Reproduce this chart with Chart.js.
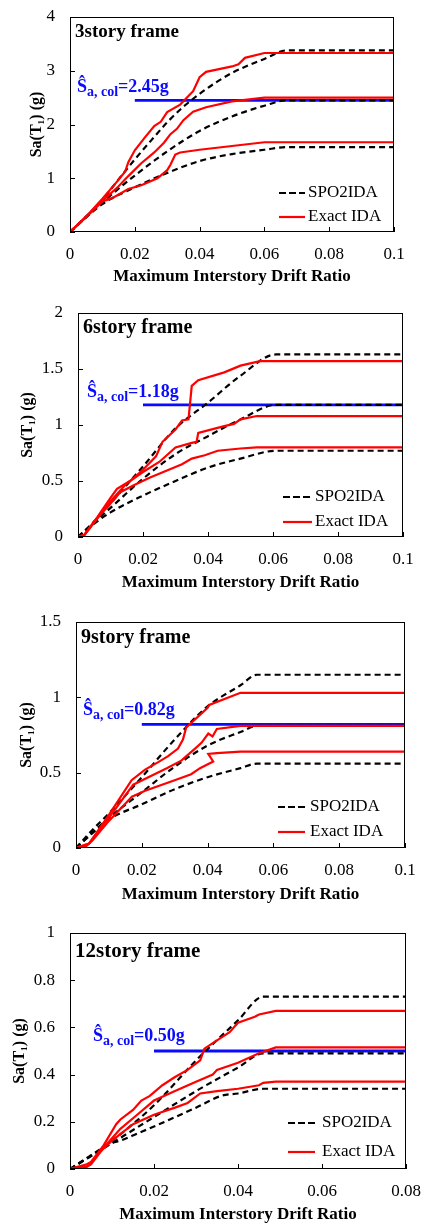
<!DOCTYPE html>
<html>
<head>
<meta charset="utf-8">
<script src="https://cdn.jsdelivr.net/npm/chart.js@4.4.1/dist/chart.umd.min.js"></script>
<style>
  body { margin: 0; background: #fff; width: 422px; height: 1225px; overflow: hidden; position: relative; }
  canvas { position: absolute; left: 0; }
</style>
</head>
<body>
<canvas id="c3" width="422" height="300" style="top:0px"></canvas>
<canvas id="c6" width="422" height="300" style="top:300px"></canvas>
<canvas id="c9" width="422" height="310" style="top:600px"></canvas>
<canvas id="c12" width="422" height="325" style="top:900px"></canvas>
<script>
// ---- data: [drift, Sa] pairs ----
const frameTitles = ['3story frame', '6story frame', '9story frame', '12story frame'];
const saCol = [2.45, 1.18, 0.82, 0.50];
const legendLabels = ['SPO2IDA', 'Exact IDA'];
const xTitle = 'Maximum Interstory Drift Ratio';
const yTitle = 'Sa(T\u2081) (g)';

const xTicks10 = [0, 0.02, 0.04, 0.06, 0.08, 0.1];
const xLabels10 = ['0', '0.02', '0.04', '0.06', '0.08', '0.1'];
const xTicks8 = [0, 0.02, 0.04, 0.06, 0.08];
const xLabels8 = ['0', '0.02', '0.04', '0.06', '0.08'];

const yTicks3 = [0, 1, 2, 3, 4];
const yLabels3 = ['0', '1', '2', '3', '4'];
const yTicks6 = [0, 0.5, 1, 1.5, 2];
const yLabels6 = ['0', '0.5', '1', '1.5', '2'];
const yTicks9 = [0, 0.5, 1, 1.5];
const yLabels9 = ['0', '0.5', '1', '1.5'];
const yTicks12 = [0, 0.2, 0.4, 0.6, 0.8, 1];
const yLabels12 = ['0', '0.2', '0.4', '0.6', '0.8', '1'];

// 3 story
const spo3_16 = [[0,0],[0.01,0.52],[0.02,0.83],[0.03,1.1],[0.04,1.32],[0.05,1.45],[0.06,1.53],[0.067,1.58],[0.1,1.58]];
const spo3_50 = [[0,0],[0.01,0.55],[0.02,1.05],[0.03,1.5],[0.04,1.88],[0.05,2.15],[0.06,2.35],[0.067,2.45],[0.1,2.45]];
const spo3_84 = [[0,0],[0.01,0.6],[0.015,0.98],[0.02,1.35],[0.025,1.7],[0.03,2.04],[0.035,2.33],[0.04,2.57],[0.045,2.78],[0.05,2.96],[0.055,3.1],[0.06,3.22],[0.067,3.38],[0.1,3.38]];
const ida3_16 = [[0,0],[0.005,0.28],[0.01,0.57],[0.013,0.63],[0.018,0.8],[0.022,0.87],[0.027,1.0],[0.03,1.15],[0.031,1.25],[0.0325,1.44],[0.034,1.48],[0.04,1.53],[0.05,1.6],[0.06,1.67],[0.1,1.67]];
const ida3_50 = [[0,0],[0.005,0.28],[0.01,0.58],[0.015,0.85],[0.018,1.04],[0.022,1.28],[0.026,1.48],[0.029,1.66],[0.031,1.82],[0.033,1.92],[0.035,2.08],[0.038,2.24],[0.042,2.32],[0.05,2.43],[0.06,2.5],[0.1,2.5]];
const ida3_84 = [[0,0],[0.005,0.29],[0.01,0.62],[0.014,0.9],[0.017,1.12],[0.018,1.3],[0.02,1.52],[0.023,1.75],[0.026,1.97],[0.028,2.05],[0.03,2.23],[0.034,2.37],[0.038,2.62],[0.04,2.88],[0.042,2.98],[0.05,3.08],[0.052,3.12],[0.054,3.24],[0.06,3.33],[0.1,3.33]];

// 6 story
const spo6_16 = [[0,0],[0.005,0.12],[0.01,0.22],[0.02,0.37],[0.03,0.5],[0.04,0.62],[0.05,0.7],[0.061,0.77],[0.1,0.77]];
const spo6_50 = [[0,0],[0.005,0.13],[0.01,0.26],[0.02,0.52],[0.03,0.74],[0.04,0.9],[0.05,1.05],[0.061,1.18],[0.1,1.18]];
const spo6_84 = [[0,0],[0.005,0.14],[0.01,0.3],[0.02,0.63],[0.03,0.97],[0.04,1.2],[0.05,1.44],[0.061,1.63],[0.1,1.63]];
const ida6_16 = [[0,0],[0.002,0.02],[0.006,0.17],[0.01,0.3],[0.013,0.4],[0.017,0.46],[0.022,0.53],[0.027,0.59],[0.032,0.65],[0.035,0.7],[0.039,0.73],[0.043,0.77],[0.05,0.79],[0.055,0.8],[0.1,0.8]];
const ida6_50 = [[0,0],[0.002,0.02],[0.006,0.17],[0.01,0.32],[0.015,0.48],[0.02,0.58],[0.025,0.67],[0.03,0.8],[0.035,0.84],[0.0365,0.85],[0.037,0.93],[0.045,0.99],[0.048,1.01],[0.05,1.05],[0.055,1.08],[0.1,1.08]];
const ida6_84 = [[0,0],[0.002,0.02],[0.006,0.18],[0.01,0.35],[0.012,0.43],[0.016,0.5],[0.02,0.6],[0.024,0.72],[0.026,0.85],[0.03,0.96],[0.032,1.04],[0.034,1.05],[0.0345,1.2],[0.035,1.35],[0.037,1.4],[0.045,1.47],[0.05,1.53],[0.056,1.57],[0.1,1.57]];

// 9 story
const spo9_16 = [[0,0],[0.005,0.1],[0.01,0.19],[0.02,0.29],[0.03,0.39],[0.04,0.47],[0.05,0.53],[0.055,0.56],[0.1,0.56]];
const spo9_50 = [[0,0],[0.005,0.1],[0.01,0.2],[0.02,0.37],[0.03,0.54],[0.04,0.68],[0.05,0.77],[0.055,0.81],[0.1,0.81]];
const spo9_84 = [[0,0],[0.005,0.12],[0.01,0.23],[0.02,0.47],[0.03,0.72],[0.04,0.94],[0.05,1.08],[0.055,1.15],[0.1,1.15]];
const ida9_16 = [[0,0],[0.003,0.01],[0.005,0.05],[0.01,0.18],[0.017,0.34],[0.021,0.38],[0.03,0.45],[0.035,0.49],[0.0377,0.53],[0.0417,0.574],[0.0402,0.625],[0.0428,0.63],[0.05,0.64],[0.1,0.64]];
const ida9_50 = [[0,0],[0.004,0.03],[0.01,0.2],[0.0174,0.42],[0.022,0.47],[0.0276,0.53],[0.032,0.58],[0.0367,0.67],[0.0382,0.7],[0.0402,0.76],[0.0415,0.74],[0.0428,0.79],[0.05,0.81],[0.1,0.81]];
const ida9_84 = [[0,0],[0.004,0.03],[0.01,0.22],[0.0169,0.45],[0.021,0.52],[0.025,0.57],[0.028,0.61],[0.031,0.66],[0.0325,0.72],[0.0335,0.8],[0.035,0.83],[0.038,0.89],[0.04,0.93],[0.0405,0.95],[0.05,1.03],[0.1,1.03]];

// 12 story
const spo12_16 = [[0,0],[0.005,0.055],[0.01,0.11],[0.012,0.12],[0.016,0.15],[0.02,0.18],[0.03,0.26],[0.036,0.31],[0.04,0.32],[0.046,0.34],[0.08,0.34]];
const spo12_50 = [[0,0],[0.01,0.11],[0.02,0.22],[0.03,0.33],[0.04,0.43],[0.046,0.49],[0.08,0.49]];
const spo12_84 = [[0,0],[0.01,0.12],[0.02,0.27],[0.03,0.46],[0.04,0.63],[0.046,0.73],[0.08,0.73]];
const ida12_16 = [[0,0],[0.004,0.01],[0.005,0.025],[0.007,0.07],[0.01,0.12],[0.015,0.19],[0.02,0.23],[0.025,0.26],[0.028,0.28],[0.031,0.32],[0.035,0.33],[0.04,0.34],[0.045,0.355],[0.046,0.365],[0.049,0.37],[0.08,0.37]];
const ida12_50 = [[0,0],[0.004,0.01],[0.005,0.02],[0.008,0.09],[0.012,0.17],[0.016,0.23],[0.02,0.29],[0.025,0.33],[0.03,0.37],[0.034,0.4],[0.035,0.42],[0.04,0.45],[0.045,0.49],[0.049,0.515],[0.08,0.515]];
const ida12_84 = [[0,0],[0.004,0.02],[0.005,0.03],[0.008,0.1],[0.011,0.19],[0.012,0.21],[0.015,0.25],[0.017,0.29],[0.019,0.31],[0.022,0.355],[0.025,0.39],[0.028,0.42],[0.031,0.46],[0.032,0.51],[0.035,0.545],[0.038,0.58],[0.04,0.62],[0.044,0.645],[0.045,0.655],[0.049,0.67],[0.08,0.67]];

const FONT = '"Liberation Serif", "Times New Roman", serif';
const RED = '#ff0000';
const BLUE = '#0a0aff';

function toXY(pts) {
  return pts.map(p => ({ x: p[0], y: p[1] }));
}

// draws the frame box, inward ticks, panel title, Sa,col note and legend
const framePlugin = {
  id: 'frameDecor',
  afterDatasetsDraw(chart, args, o) {
    const ctx = chart.ctx;
    const a = chart.chartArea;
    const xs = chart.scales.x;
    const ys = chart.scales.y;
    ctx.save();

    ctx.strokeStyle = '#000';
    ctx.lineWidth = 1;
    ctx.setLineDash([]);
    ctx.strokeRect(a.left + 0.5, a.top + 0.5, a.right - a.left - 1, a.bottom - a.top - 1);

    ctx.beginPath();
    xs.ticks.forEach(t => {
      const px = Math.round(xs.getPixelForValue(t.value)) + 0.5;
      ctx.moveTo(px, a.bottom);
      ctx.lineTo(px, a.bottom - 5);
    });
    ys.ticks.forEach(t => {
      const py = Math.round(ys.getPixelForValue(t.value)) + 0.5;
      ctx.moveTo(a.left, py);
      ctx.lineTo(a.left + 5, py);
    });
    ctx.stroke();

    // panel title
    ctx.fillStyle = '#000';
    ctx.textBaseline = 'alphabetic';
    ctx.textAlign = 'left';
    ctx.font = 'bold ' + o.titleSize + 'px ' + FONT;
    ctx.fillText(o.title, a.left + 5, a.top + o.titleDy);

    // Sa,col note above the blue line
    const by = ys.getPixelForValue(o.sa) - o.noteDy;
    let nx = a.left + o.noteDx;
    ctx.fillStyle = BLUE;
    ctx.font = 'bold 18px ' + FONT;
    ctx.fillText('\u015C', nx, by);
    nx += ctx.measureText('\u015C').width;
    ctx.font = 'bold 14px ' + FONT;
    ctx.fillText('a, col', nx, by + 4);
    nx += ctx.measureText('a, col').width;
    ctx.font = 'bold 18px ' + FONT;
    ctx.fillText('=' + o.sa.toFixed(2) + 'g', nx, by);

    // legend in the lower right corner
    const lg = o.legend;
    const lx = a.right - lg.dx;
    const rows = [a.bottom - lg.dy1, a.bottom - lg.dy2];
    ctx.lineWidth = 2.2;
    ctx.strokeStyle = '#000';
    ctx.setLineDash([7, 3]);
    ctx.beginPath();
    ctx.moveTo(lx, rows[0]);
    ctx.lineTo(lx + lg.len, rows[0]);
    ctx.stroke();
    ctx.setLineDash([]);
    ctx.strokeStyle = RED;
    ctx.beginPath();
    ctx.moveTo(lx, rows[1]);
    ctx.lineTo(lx + lg.len, rows[1]);
    ctx.stroke();
    ctx.fillStyle = '#000';
    ctx.font = '17px ' + FONT;
    ctx.textBaseline = 'middle';
    ctx.fillText(legendLabels[0], lx + lg.len + lg.gap, rows[0]);
    ctx.fillText(legendLabels[1], lx + lg.len + lg.gap, rows[1]);

    ctx.restore();
  }
};

function frameChart(id, c) {
  const canvas = document.getElementById(id);
  const H = canvas.height;
  const datasets = [];
  c.ida.forEach(pts => datasets.push({
    data: toXY(pts), borderColor: RED, borderWidth: 2.2, showLine: true,
    pointRadius: 0, tension: 0, fill: false
  }));
  c.spo.forEach(pts => datasets.push({
    data: toXY(pts), borderColor: '#000', borderWidth: 2.2, borderDash: [6, 4], showLine: true,
    pointRadius: 0, cubicInterpolationMode: 'monotone', fill: false
  }));
  datasets.push({
    data: [{ x: 0.02, y: c.sa }, { x: c.xMax, y: c.sa }],
    borderColor: BLUE, borderWidth: 2.8, showLine: true, pointRadius: 0, fill: false
  });

  return new Chart(canvas, {
    type: 'scatter',
    data: { datasets: datasets },
    options: {
      responsive: false,
      animation: false,
      devicePixelRatio: 1,
      layout: { padding: { left: 0, right: canvas.width - c.box.r, top: c.box.t, bottom: 0 } },
      plugins: {
        legend: { display: false },
        tooltip: { enabled: false },
        frameDecor: {
          title: c.title, titleSize: c.titleSize, titleDy: c.titleDy,
          sa: c.sa, noteDx: c.noteDx, noteDy: c.noteDy, legend: c.legend
        }
      },
      scales: {
        x: {
          type: 'linear', min: 0, max: c.xMax,
          afterBuildTicks: s => { s.ticks = c.xTicks.map(v => ({ value: v })); },
          afterFit: s => { s.height = H - c.box.b; s.paddingLeft = 0; s.paddingRight = 0; },
          grid: { display: false, drawTicks: false },
          border: { display: false },
          ticks: {
            callback: (v, i) => c.xLabels[i], color: '#000', padding: 12,
            maxRotation: 0, autoSkip: false, font: { family: FONT, size: 17 }
          },
          title: {
            display: true, text: xTitle, color: '#000',
            font: { family: FONT, size: 17, weight: 'bold' },
            padding: { top: 0, bottom: c.xTitlePad }
          }
        },
        y: {
          type: 'linear', min: 0, max: c.yMax,
          afterBuildTicks: s => { s.ticks = c.yTicks.map(v => ({ value: v })); },
          afterFit: s => { s.width = c.box.l; s.paddingTop = 0; s.paddingBottom = 0; },
          grid: { display: false, drawTicks: false },
          border: { display: false },
          ticks: {
            callback: (v, i) => c.yLabels[i], color: '#000', padding: 15,
            autoSkip: false, font: { family: FONT, size: 17 }
          },
          title: {
            display: true, text: yTitle, color: '#000',
            font: { family: FONT, size: 16, weight: 'bold' },
            padding: { top: c.yTitlePad, bottom: 0 }
          }
        }
      }
    },
    plugins: [framePlugin]
  });
}

frameChart('c3', {
  spo: [spo3_16, spo3_50, spo3_84], ida: [ida3_16, ida3_50, ida3_84],
  sa: saCol[0], title: frameTitles[0], titleSize: 19, titleDy: 20,
  xMax: 0.1, yMax: 4, xTicks: xTicks10, xLabels: xLabels10, yTicks: yTicks3, yLabels: yLabels3,
  box: { l: 70, r: 394, t: 17, b: 232 }, xTitlePad: 12.8, yTitlePad: 27.4,
  noteDx: 7, noteDy: 8.5, legend: { dx: 115, dy1: 39, dy2: 15, len: 26, gap: 3 }
});
frameChart('c6', {
  spo: [spo6_16, spo6_50, spo6_84], ida: [ida6_16, ida6_50, ida6_84],
  sa: saCol[1], title: frameTitles[1], titleSize: 20, titleDy: 20,
  xMax: 0.1, yMax: 2, xTicks: xTicks10, xLabels: xLabels10, yTicks: yTicks6, yLabels: yLabels6,
  box: { l: 78, r: 403, t: 13, b: 237 }, xTitlePad: 6.8, yTitlePad: 18.4,
  noteDx: 9, noteDy: 8, legend: { dx: 120, dy1: 40, dy2: 15, len: 29, gap: 3 }
});
frameChart('c9', {
  spo: [spo9_16, spo9_50, spo9_84], ida: [ida9_16, ida9_50, ida9_84],
  sa: saCol[2], title: frameTitles[2], titleSize: 20, titleDy: 21,
  xMax: 0.1, yMax: 1.5, xTicks: xTicks10, xLabels: xLabels10, yTicks: yTicks9, yLabels: yLabels9,
  box: { l: 76, r: 405, t: 22, b: 248 }, xTitlePad: 4.8, yTitlePad: 17.4,
  noteDx: 7, noteDy: 9.5, legend: { dx: 127, dy1: 41, dy2: 16, len: 27, gap: 5 }
});
frameChart('c12', {
  spo: [spo12_16, spo12_50, spo12_84], ida: [ida12_16, ida12_50, ida12_84],
  sa: saCol[3], title: frameTitles[3], titleSize: 21, titleDy: 24,
  xMax: 0.08, yMax: 1, xTicks: xTicks8, xLabels: xLabels8, yTicks: yTicks12, yLabels: yLabels12,
  box: { l: 70, r: 406, t: 33, b: 269 }, xTitlePad: 0, yTitlePad: 10.4,
  noteDx: 23, noteDy: 10, legend: { dx: 118, dy1: 46, dy2: 17, len: 27, gap: 7 }
});
</script>
</body>
</html>
